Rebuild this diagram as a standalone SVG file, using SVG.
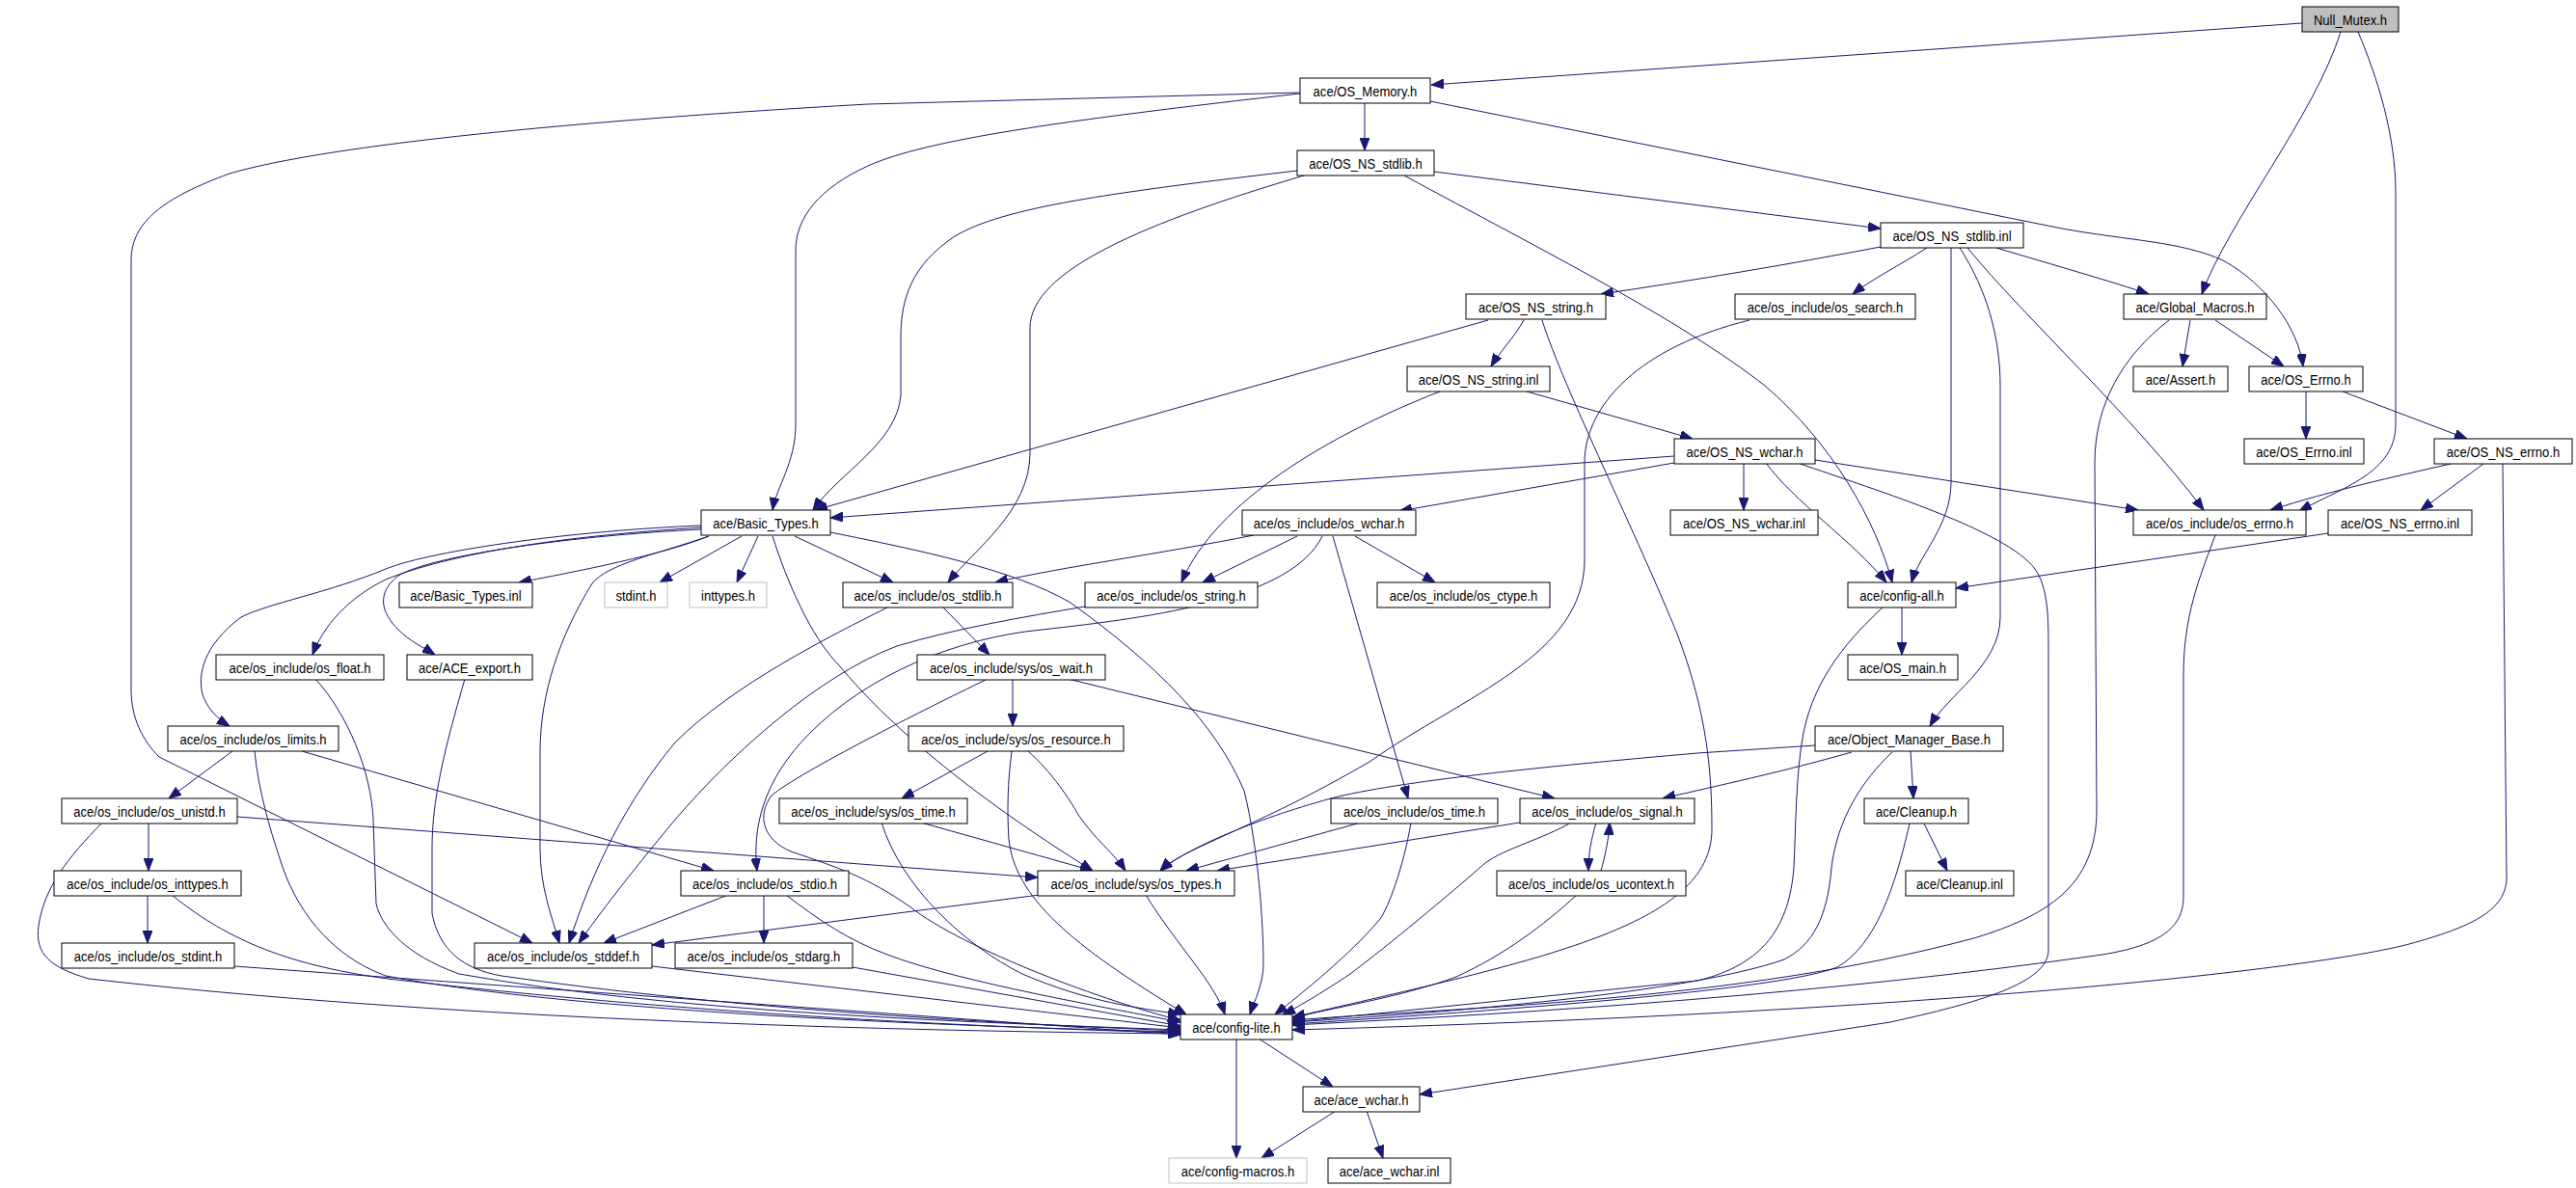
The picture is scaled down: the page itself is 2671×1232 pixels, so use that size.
<svg xmlns="http://www.w3.org/2000/svg" width="2671" height="1232" viewBox="0 0 2671 1232">
<style>
.n rect{fill:#fff;stroke:#000;stroke-width:1}
.n.g rect{fill:#bfbfbf}
.n.x rect{stroke:#bfbfbf}
.n text{font-family:"Liberation Sans",Arial,sans-serif;font-size:15px;text-anchor:middle;fill:#000;transform:scaleX(0.87);transform-box:fill-box;transform-origin:center}
#edges path{fill:none;stroke:#191970;stroke-width:1;marker-end:url(#a)}
</style>
<defs>
<marker id="a" markerWidth="13" markerHeight="10" refX="13" refY="5" orient="auto" markerUnits="userSpaceOnUse">
<path d="M0,0 L13,5 L0,10 z" fill="#191970" stroke="#191970" stroke-width="1"/>
</marker>
</defs>
<rect width="2671" height="1232" fill="#fff"/>
<g id="edges">
<path d="M2387,24 L1484,88"/>
<path d="M2427,33 C2400,120 2310,230 2283,305"/>
<path d="M2445,33 C2465,80 2484,140 2484,200 L2484,440 C2484,490 2430,505 2384,530"/>
<path d="M1415,107 L1415,156"/>
<path d="M1348,97 C1100,125 960,145 900,172 C850,195 825,225 825,260 L825,440 C825,480 805,505 801,529"/>
<path d="M1348,96 L900,108 C600,125 340,150 238,180 C170,205 136,230 136,270 L136,715 C136,745 148,768 165,785 L552,978"/>
<path d="M1483,105 L2138,237 C2210,250 2260,250 2305,270 C2350,295 2383,340 2388,380"/>
<path d="M1487,178 L1950,237"/>
<path d="M1345,177 C1150,200 1040,215 990,245 C945,275 934,310 934,350 L934,410 C930,460 870,490 843,529"/>
<path d="M1352,182 C1190,230 1068,280 1068,340 L1068,470 C1068,530 1010,570 983,604"/>
<path d="M1456,182 C1600,260 1740,330 1830,400 C1900,460 1945,540 1962,604"/>
<path d="M1950,256 C1850,275 1760,290 1660,305"/>
<path d="M1998,257 C1970,275 1940,290 1921,305"/>
<path d="M2070,257 C2130,275 2190,292 2228,305"/>
<path d="M2023,257 L2023,500 C2023,545 1990,575 1982,604"/>
<path d="M2040,257 C2100,330 2210,430 2285,529"/>
<path d="M2032,257 C2060,300 2074,350 2074,400 L2074,640 C2074,690 2020,720 2001,753"/>
<path d="M1814,332 C1700,360 1643,420 1643,480 L1643,580 C1643,680 1520,720 1420,790 C1300,860 1225,880 1203,903"/>
<path d="M2271,332 L2263,380"/>
<path d="M2297,332 L2368,380"/>
<path d="M2249,332 C2200,370 2172,420 2172,480 L2174,840 C2174,920 2120,950 2050,972 C1800,1040 1500,1045 1340,1058"/>
<path d="M2391,406 L2391,455"/>
<path d="M2429,406 L2558,455"/>
<path d="M2541,481 C2480,495 2420,508 2354,529"/>
<path d="M2575,481 L2510,529"/>
<path d="M2595,481 L2599,910 C2599,945 2560,962 2498,979 C2400,1005 2000,1050 1340,1068"/>
<path d="M2297,555 C2280,600 2264,640 2264,700 L2264,930 C2264,962 2240,980 2180,990 C1900,1030 1600,1050 1340,1063"/>
<path d="M2414,553 L2028,610"/>
<path d="M1543,332 L845,529"/>
<path d="M1580,332 C1570,350 1555,365 1546,380"/>
<path d="M1599,332 C1620,400 1700,560 1740,660 C1770,740 1775,800 1775,860 C1775,960 1600,995 1340,1055"/>
<path d="M1583,406 L1755,455"/>
<path d="M1493,406 C1380,450 1260,520 1225,604"/>
<path d="M1736,473 L861,537"/>
<path d="M1736,480 L1451,530"/>
<path d="M1808,480 L1808,529"/>
<path d="M1831,480 C1860,520 1920,560 1956,604"/>
<path d="M1882,477 L2217,529"/>
<path d="M1864,480 C1950,510 2080,550 2110,590 C2124,610 2124,640 2124,680 L2124,985 C2124,1020 2050,1040 1960,1060 L1472,1135"/>
<path d="M1300,555 C1200,575 1100,588 1032,604"/>
<path d="M1345,556 L1247,604"/>
<path d="M1405,556 L1488,604"/>
<path d="M1382,556 L1460,828"/>
<path d="M1371,556 C1340,620 1200,640 1080,653 C990,662 900,700 840,760 C790,810 780,860 785,903"/>
<path d="M735,556 C700,570 640,585 538,604"/>
<path d="M769,556 L684,604"/>
<path d="M786,556 L764,604"/>
<path d="M824,556 L926,604"/>
<path d="M727,547 C600,555 480,570 402,600 C360,620 335,650 324,679"/>
<path d="M727,549 C600,555 450,575 413,597 C390,615 395,635 413,653 C425,665 440,672 451,679"/>
<path d="M727,545 C600,550 450,570 400,590 C340,615 280,625 250,640 C210,670 205,700 210,720 C215,735 225,745 238,753"/>
<path d="M735,556 C680,575 630,585 614,605 C580,660 560,720 560,780 L560,880 C560,920 572,950 580,978"/>
<path d="M801,556 C815,600 840,660 870,690 C920,750 1000,820 1133,903"/>
<path d="M861,552 C950,570 1050,590 1110,625 C1200,690 1260,750 1290,820 C1305,880 1310,960 1310,1000 C1310,1020 1300,1040 1296,1052"/>
<path d="M978,630 L1026,679"/>
<path d="M922,629 C860,660 760,710 700,770 C650,830 615,900 590,978"/>
<path d="M1125,629 C1060,640 990,652 930,670 C850,700 760,780 700,850 C650,910 620,950 600,978"/>
<path d="M1050,704 L1050,753"/>
<path d="M1107,704 L1612,828"/>
<path d="M1022,705 C960,735 830,800 800,825 C785,845 790,870 820,883 C870,900 900,910 943,940 C1000,985 1150,1040 1224,1058"/>
<path d="M1024,779 L935,828"/>
<path d="M1066,779 C1090,800 1110,830 1118,845 C1135,870 1155,885 1167,903"/>
<path d="M1049,779 C1045,810 1044,840 1046,870 C1052,930 1110,980 1230,1052"/>
<path d="M955,853 L1133,903"/>
<path d="M914,853 C935,920 1000,980 1060,1010 C1130,1040 1180,1045 1224,1052"/>
<path d="M1411,853 L1230,903"/>
<path d="M1463,853 C1455,900 1440,940 1431,953 C1400,990 1350,1030 1322,1052"/>
<path d="M1576,853 L1262,903"/>
<path d="M1629,853 C1600,870 1560,880 1540,895 C1500,930 1440,980 1400,1010 C1370,1030 1345,1045 1330,1052"/>
<path d="M1655,853 C1650,870 1647,885 1647,903"/>
<path d="M1660,903 C1665,885 1668,870 1669,853"/>
<path d="M1635,928 C1600,960 1560,990 1510,1013 C1450,1035 1380,1045 1340,1056"/>
<path d="M1972,629 L1972,679"/>
<path d="M1953,629 C1920,660 1882,700 1870,760 C1862,800 1862,860 1860,900 C1855,960 1830,1000 1760,1017 L1340,1060"/>
<path d="M1981,779 L1984,828"/>
<path d="M1920,780 C1850,800 1780,815 1724,828"/>
<path d="M1882,773 L1760,781 C1600,795 1450,810 1380,828 C1300,850 1230,880 1203,903"/>
<path d="M1962,780 C1930,810 1905,850 1899,900 C1895,950 1880,980 1850,995 C1750,1030 1500,1050 1340,1060"/>
<path d="M1995,854 L2019,903"/>
<path d="M1980,854 C1965,920 1945,980 1905,1003 C1850,1025 1600,1045 1340,1062"/>
<path d="M327,704 C360,740 385,800 387,850 L390,937 C395,960 420,990 476,1010 C700,1050 1000,1060 1224,1068"/>
<path d="M482,704 C460,780 448,830 448,880 L448,947 C455,985 480,1005 520,1012 C750,1045 1000,1060 1224,1069"/>
<path d="M264,779 C268,820 280,860 290,890 C305,940 340,990 400,1012 C600,1050 1000,1065 1224,1070"/>
<path d="M241,779 L175,828"/>
<path d="M313,779 L740,903"/>
<path d="M154,853 L154,903"/>
<path d="M246,847 L1076,910"/>
<path d="M106,853 C70,890 46,920 40,960 C36,990 52,1003 92,1015 C400,1050 800,1068 1224,1072"/>
<path d="M153,928 L153,978"/>
<path d="M178,928 C230,970 290,1000 402,1015 C700,1050 1000,1065 1224,1071"/>
<path d="M243,1002 L1224,1073"/>
<path d="M676,1002 L1224,1066"/>
<path d="M884,1003 L1224,1064"/>
<path d="M755,928 L626,978"/>
<path d="M792,928 L792,978"/>
<path d="M815,928 C850,955 880,975 920,990 C1000,1020 1150,1045 1224,1060"/>
<path d="M1078,928 L676,980"/>
<path d="M1188,928 C1220,980 1260,1020 1270,1052"/>
<path d="M1282,1077 L1282,1201"/>
<path d="M1305,1077 L1382,1127"/>
<path d="M1385,1152 L1308,1201"/>
<path d="M1417,1152 L1434,1201"/>
</g>
<g id="n0" class="n g"><rect x="2387" y="7" width="100" height="26"/><text x="2437" y="26">Null_Mutex.h</text></g>
<g id="n1" class="n"><rect x="1348" y="81" width="135" height="26"/><text x="1415.5" y="100">ace/OS_Memory.h</text></g>
<g id="n2" class="n"><rect x="1345" y="156" width="142" height="26"/><text x="1416" y="175">ace/OS_NS_stdlib.h</text></g>
<g id="n3" class="n"><rect x="1950" y="231" width="148" height="26"/><text x="2024" y="250">ace/OS_NS_stdlib.inl</text></g>
<g id="n4" class="n"><rect x="1520" y="305" width="145" height="26"/><text x="1592.5" y="324">ace/OS_NS_string.h</text></g>
<g id="n5" class="n"><rect x="1799" y="305" width="187" height="26"/><text x="1892.5" y="324">ace/os_include/os_search.h</text></g>
<g id="n6" class="n"><rect x="2202" y="305" width="148" height="26"/><text x="2276" y="324">ace/Global_Macros.h</text></g>
<g id="n7" class="n"><rect x="1459" y="380" width="148" height="26"/><text x="1533" y="399">ace/OS_NS_string.inl</text></g>
<g id="n8" class="n"><rect x="2212" y="380" width="98" height="26"/><text x="2261" y="399">ace/Assert.h</text></g>
<g id="n9" class="n"><rect x="2332" y="380" width="118" height="26"/><text x="2391" y="399">ace/OS_Errno.h</text></g>
<g id="n10" class="n"><rect x="1736" y="455" width="146" height="26"/><text x="1809" y="474">ace/OS_NS_wchar.h</text></g>
<g id="n11" class="n"><rect x="2327" y="455" width="124" height="26"/><text x="2389" y="474">ace/OS_Errno.inl</text></g>
<g id="n12" class="n"><rect x="2524" y="455" width="143" height="26"/><text x="2595.5" y="474">ace/OS_NS_errno.h</text></g>
<g id="n13" class="n"><rect x="727" y="529" width="134" height="26"/><text x="794" y="548">ace/Basic_Types.h</text></g>
<g id="n14" class="n"><rect x="1288" y="529" width="180" height="26"/><text x="1378" y="548">ace/os_include/os_wchar.h</text></g>
<g id="n15" class="n"><rect x="1732" y="529" width="153" height="26"/><text x="1808.5" y="548">ace/OS_NS_wchar.inl</text></g>
<g id="n16" class="n"><rect x="2212" y="529" width="179" height="26"/><text x="2301.5" y="548">ace/os_include/os_errno.h</text></g>
<g id="n17" class="n"><rect x="2414" y="529" width="149" height="26"/><text x="2488.5" y="548">ace/OS_NS_errno.inl</text></g>
<g id="n18" class="n"><rect x="414" y="604" width="138" height="26"/><text x="483" y="623">ace/Basic_Types.inl</text></g>
<g id="n19" class="n x"><rect x="627" y="604" width="65" height="26"/><text x="659.5" y="623">stdint.h</text></g>
<g id="n20" class="n x"><rect x="715" y="604" width="80" height="26"/><text x="755" y="623">inttypes.h</text></g>
<g id="n21" class="n"><rect x="874" y="604" width="176" height="26"/><text x="962" y="623">ace/os_include/os_stdlib.h</text></g>
<g id="n22" class="n"><rect x="1125" y="604" width="179" height="26"/><text x="1214.5" y="623">ace/os_include/os_string.h</text></g>
<g id="n23" class="n"><rect x="1428" y="604" width="179" height="26"/><text x="1517.5" y="623">ace/os_include/os_ctype.h</text></g>
<g id="n24" class="n"><rect x="1916" y="604" width="112" height="26"/><text x="1972" y="623">ace/config-all.h</text></g>
<g id="n25" class="n"><rect x="224" y="679" width="174" height="26"/><text x="311" y="698">ace/os_include/os_float.h</text></g>
<g id="n26" class="n"><rect x="422" y="679" width="130" height="26"/><text x="487" y="698">ace/ACE_export.h</text></g>
<g id="n27" class="n"><rect x="951" y="679" width="195" height="26"/><text x="1048.5" y="698">ace/os_include/sys/os_wait.h</text></g>
<g id="n28" class="n"><rect x="1916" y="679" width="114" height="26"/><text x="1973" y="698">ace/OS_main.h</text></g>
<g id="n29" class="n"><rect x="174" y="753" width="177" height="26"/><text x="262.5" y="772">ace/os_include/os_limits.h</text></g>
<g id="n30" class="n"><rect x="942" y="753" width="223" height="26"/><text x="1053.5" y="772">ace/os_include/sys/os_resource.h</text></g>
<g id="n31" class="n"><rect x="1882" y="753" width="195" height="26"/><text x="1979.5" y="772">ace/Object_Manager_Base.h</text></g>
<g id="n32" class="n"><rect x="64" y="828" width="182" height="26"/><text x="155" y="847">ace/os_include/os_unistd.h</text></g>
<g id="n33" class="n"><rect x="808" y="828" width="195" height="26"/><text x="905.5" y="847">ace/os_include/sys/os_time.h</text></g>
<g id="n34" class="n"><rect x="1380" y="828" width="173" height="26"/><text x="1466.5" y="847">ace/os_include/os_time.h</text></g>
<g id="n35" class="n"><rect x="1576" y="828" width="181" height="26"/><text x="1666.5" y="847">ace/os_include/os_signal.h</text></g>
<g id="n36" class="n"><rect x="1933" y="828" width="108" height="26"/><text x="1987" y="847">ace/Cleanup.h</text></g>
<g id="n37" class="n"><rect x="56" y="903" width="194" height="26"/><text x="153" y="922">ace/os_include/os_inttypes.h</text></g>
<g id="n38" class="n"><rect x="706" y="903" width="174" height="26"/><text x="793" y="922">ace/os_include/os_stdio.h</text></g>
<g id="n39" class="n"><rect x="1076" y="903" width="204" height="26"/><text x="1178" y="922">ace/os_include/sys/os_types.h</text></g>
<g id="n40" class="n"><rect x="1552" y="903" width="196" height="26"/><text x="1650" y="922">ace/os_include/os_ucontext.h</text></g>
<g id="n41" class="n"><rect x="1976" y="903" width="112" height="26"/><text x="2032" y="922">ace/Cleanup.inl</text></g>
<g id="n42" class="n"><rect x="64" y="978" width="179" height="26"/><text x="153.5" y="997">ace/os_include/os_stdint.h</text></g>
<g id="n43" class="n"><rect x="492" y="978" width="184" height="26"/><text x="584" y="997">ace/os_include/os_stddef.h</text></g>
<g id="n44" class="n"><rect x="700" y="978" width="184" height="26"/><text x="792" y="997">ace/os_include/os_stdarg.h</text></g>
<g id="n45" class="n"><rect x="1224" y="1052" width="116" height="26"/><text x="1282" y="1071">ace/config-lite.h</text></g>
<g id="n46" class="n"><rect x="1351" y="1127" width="121" height="26"/><text x="1411.5" y="1146">ace/ace_wchar.h</text></g>
<g id="n47" class="n x"><rect x="1212" y="1201" width="143" height="26"/><text x="1283.5" y="1220">ace/config-macros.h</text></g>
<g id="n48" class="n"><rect x="1377" y="1201" width="127" height="26"/><text x="1440.5" y="1220">ace/ace_wchar.inl</text></g>
</svg>
